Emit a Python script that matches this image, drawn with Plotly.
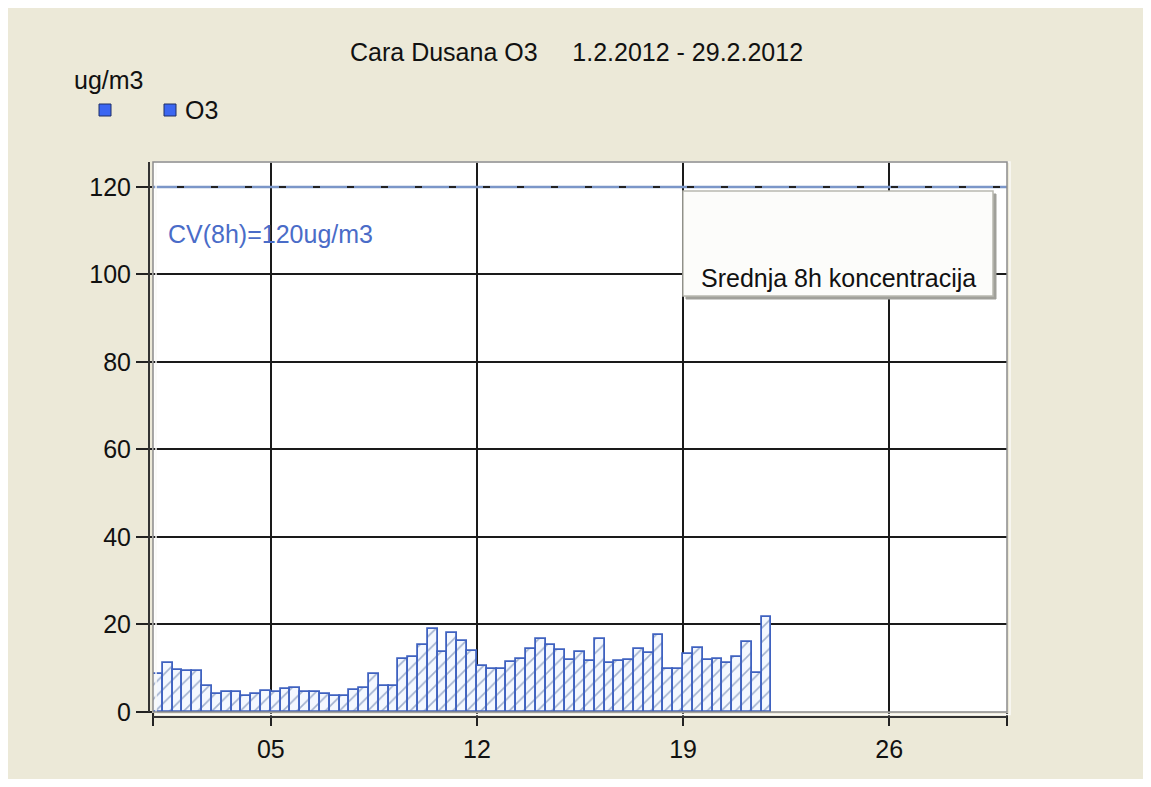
import plotly.graph_objects as go
import pandas as pd

# ---------------- data ----------------
title_text = "Cara Dusana O3\u00a0\u00a0\u00a0\u00a0 1.2.2012 - 29.2.2012"
unit_label = "ug/m3"
series_name = "O3"
limit_value = 120
limit_label = "CV(8h)=120ug/m3"
box_label = "Srednja 8h koncentracija"
period_start = "2012-02-01 00:00"
period_hours = 8
o3_values = [8.7, 11.2, 9.6, 9.3, 9.3, 6.0, 4.1, 4.5, 4.5, 3.7,
             4.1, 4.9, 4.6, 5.2, 5.4, 4.5, 4.5, 4.1, 3.7, 3.7,
             5.0, 5.4, 8.6, 6.0, 6.0, 12.2, 12.5, 15.4, 18.9, 13.8,
             18.0, 16.3, 14.0, 10.5, 9.9, 9.9, 11.5, 12.1, 14.4, 16.6,
             15.4, 14.1, 11.9, 13.7, 11.6, 16.6, 11.2, 11.6, 11.9, 14.4,
             13.5, 17.6, 9.9, 9.9, 13.2, 14.7, 11.8, 12.2, 11.2, 12.5,
             16.0, 9.0, 21.7]
y_ticks = [0, 20, 40, 60, 80, 100, 120]
x_range = ["2012-02-01", "2012-03-01"]
x_tick_days = ["2012-02-05", "2012-02-12", "2012-02-19", "2012-02-26"]
x_tick_labels = ["05", "12", "19", "26"]

# ---------------- geometry (screen pixels; page body margin = 8px) ----------------
OFF = 8
W, H = 1151 - 2 * OFF, 787 - 2 * OFF
SL, SR, ST, SB = 153, 1007, 162, 712  # plot area on screen


def px(x):
    return (x - SL) / (SR - SL)


def py(y):
    return (SB - y) / (SB - ST)


FONT = "Liberation Sans, Arial, sans-serif"
FS = 25

times = pd.date_range(period_start, periods=len(o3_values), freq=f"{period_hours}h")
period_ms = period_hours * 3600 * 1000

fig = go.Figure()
fig.add_trace(go.Bar(
    x=times, y=o3_values, width=period_ms, offset=0,
    name=series_name, showlegend=False,
    marker=dict(
        color="#4F6FB0",
        line=dict(color="#3F62C0", width=1.8),
        pattern=dict(shape="/", fgcolor="#4F6A9E", bgcolor="#F4F8FF",
                     size=10, solidity=0.16),
    ),
))

shapes = []
# limit line
shapes.append(dict(type="line", xref="paper", yref="y", x0=0, x1=1,
                   y0=limit_value, y1=limit_value,
                   line=dict(color="#7B96C8", width=2.5)))
shapes.append(dict(type="line", xref="paper", yref="y", x0=px(177), x1=px(1006),
                   y0=limit_value, y1=limit_value,
                   line=dict(color="#222222", width=2, dash="7px,27px")))
# plot frame
shapes.append(dict(type="rect", xref="paper", yref="paper", x0=px(SL + 3), x1=px(SR + 3),
                   y0=py(SB + 2.5), y1=py(ST),
                   line=dict(color="#FAFAF8", width=1.5)))
shapes.append(dict(type="rect", xref="paper", yref="paper", x0=0, x1=1, y0=0, y1=1,
                   line=dict(color="#8C8C8C", width=1.5)))
# axis lines (offset from plot area)
shapes.append(dict(type="line", xref="paper", yref="paper", x0=px(149), x1=px(149),
                   y0=py(SB), y1=py(ST), line=dict(color="#333333", width=2)))
shapes.append(dict(type="line", xref="paper", yref="paper", x0=px(SL), x1=px(SR),
                   y0=py(717), y1=py(717), line=dict(color="#333333", width=2)))
# info box with shadow
shapes.append(dict(type="rect", xref="paper", yref="paper", x0=px(686), x1=px(996),
                   y0=py(299), y1=py(194), fillcolor="#A0A09A",
                   line=dict(color="#A0A09A", width=1)))
shapes.append(dict(type="rect", xref="paper", yref="paper", x0=px(683), x1=px(993),
                   y0=py(296), y1=py(191), fillcolor="#FCFCFA",
                   line=dict(color="#B8B8B0", width=1.5)))
# legend squares
for sx in (99, 164):
    shapes.append(dict(type="rect", xref="paper", yref="paper", x0=px(sx), x1=px(sx + 12),
                       y0=py(116), y1=py(104), fillcolor="#3B66F2",
                       line=dict(color="#1F2F66", width=1)))

annotations = [
    dict(text=title_text, xref="paper", yref="paper", x=px(576), y=py(52),
         xanchor="center", yanchor="middle", showarrow=False,
         font=dict(family=FONT, size=FS, color="#111111")),
    dict(text=unit_label, xref="paper", yref="paper", x=px(72), y=py(80),
         xanchor="left", yanchor="middle", showarrow=False,
         font=dict(family=FONT, size=FS, color="#111111")),
    dict(text=series_name, xref="paper", yref="paper", x=px(183), y=py(110),
         xanchor="left", yanchor="middle", showarrow=False,
         font=dict(family=FONT, size=FS, color="#111111")),
    dict(text=limit_label, xref="paper", yref="paper", x=px(166), y=py(234),
         xanchor="left", yanchor="middle", showarrow=False,
         font=dict(family=FONT, size=FS, color="#4A6CC8")),
    dict(text=box_label, xref="paper", yref="paper", x=px(699), y=py(278),
         xanchor="left", yanchor="middle", showarrow=False,
         font=dict(family=FONT, size=FS, color="#111111")),
]

fig.update_layout(
    width=W, height=H,
    margin=dict(l=SL - OFF, r=(W + OFF) - SR, t=ST - OFF, b=(H + OFF) - SB, pad=0),
    paper_bgcolor="#ECE9D8", plot_bgcolor="white",
    font=dict(family=FONT, size=FS, color="#111111"),
    showlegend=False, bargap=0,
    shapes=shapes, annotations=annotations,
    xaxis=dict(
        type="date", range=x_range, autorange=False,
        tickmode="array",
        tickvals=[x_range[0]] + x_tick_days + [x_range[1]],
        ticktext=[""] + x_tick_labels + [""],
        ticks="outside", ticklen=13, tickwidth=1.5, tickcolor="#222222",
        showgrid=True, gridcolor="#1A1A1A", gridwidth=1.5,
        showline=False, zeroline=False,
        tickfont=dict(family=FONT, size=FS, color="#111111"),
        ticklabelstandoff=2,
    ),
    yaxis=dict(
        range=[0, 125.7], autorange=False,
        tickmode="array", tickvals=y_ticks,
        ticks="outside", ticklen=16, tickwidth=1.5, tickcolor="#222222",
        showgrid=True, gridcolor="#1A1A1A", gridwidth=1.5,
        showline=False, zeroline=False,
        tickfont=dict(family=FONT, size=FS, color="#111111"),
    ),
)

fig.write_html("out.html")
